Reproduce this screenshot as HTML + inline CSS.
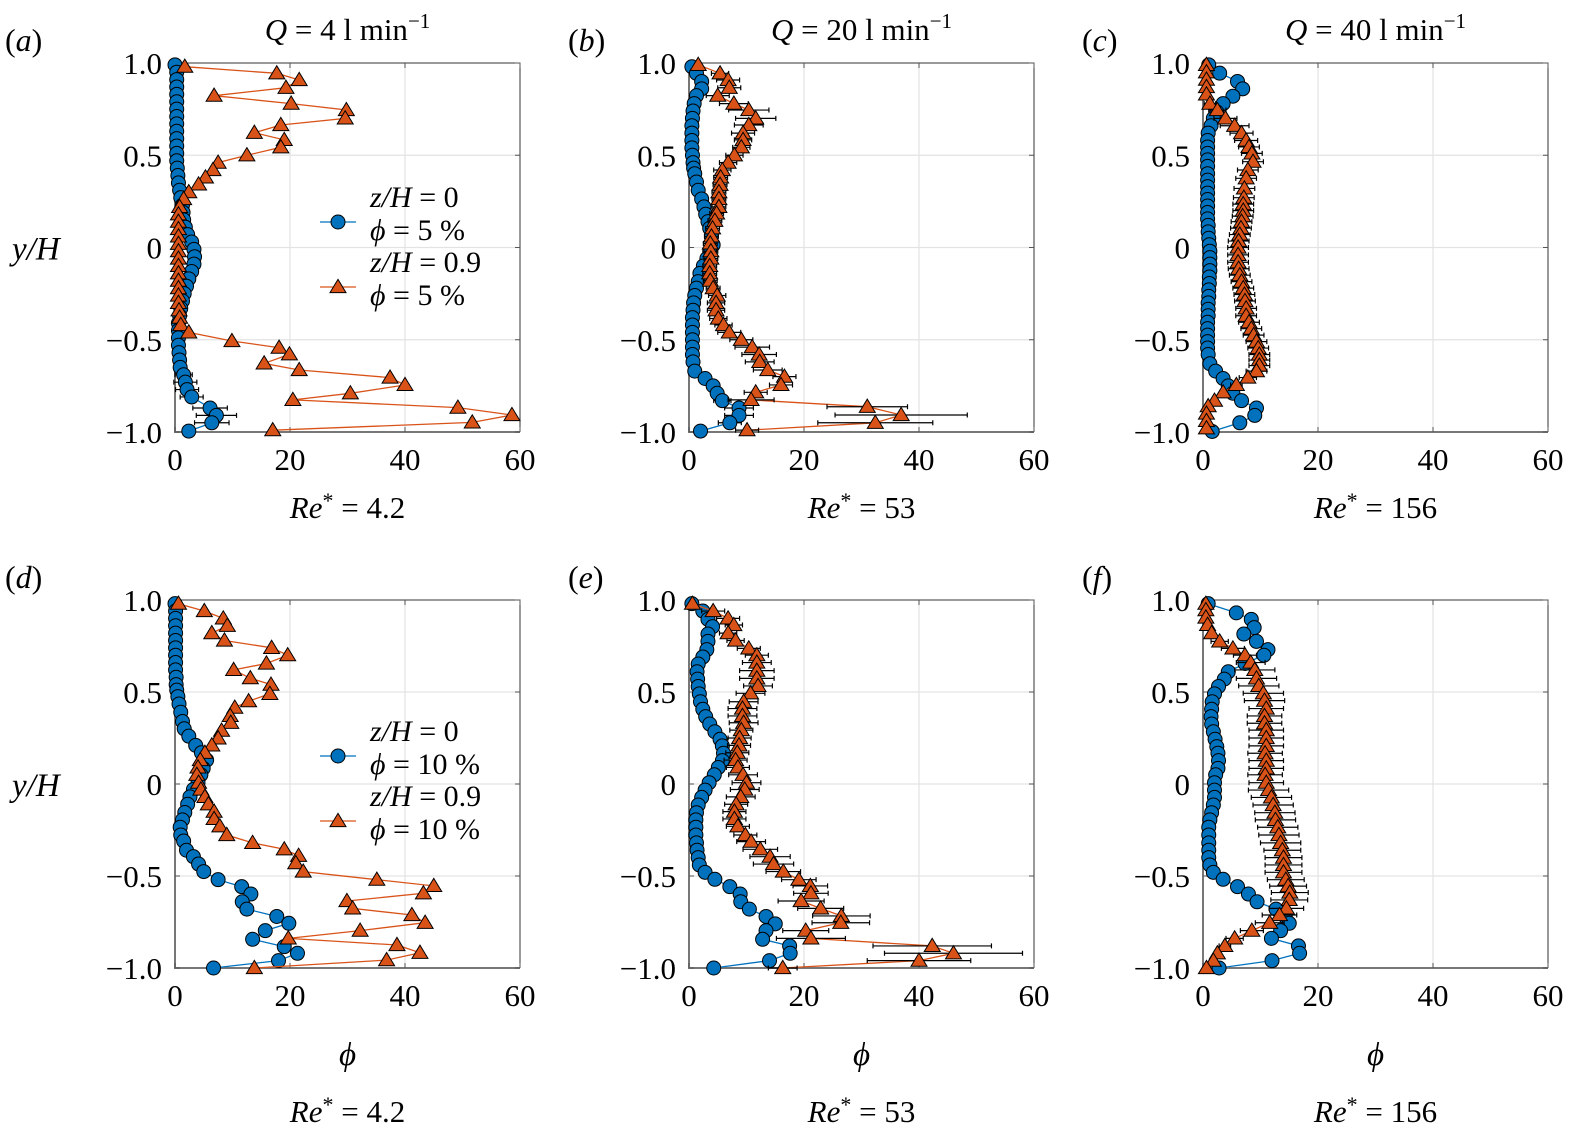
<!DOCTYPE html>
<html><head><meta charset="utf-8">
<style>
html,body{margin:0;padding:0;background:#fff;}
svg{display:block;}
svg text{font-family:"Liberation Serif","DejaVu Serif",serif;fill:#000;}
</style></head>
<body>
<svg id="fig" width="1573" height="1136" viewBox="0 0 1573 1136" xmlns="http://www.w3.org/2000/svg" font-family="Liberation Serif, DejaVu Serif, serif"></svg>
<script>
// ---------- data ----------
const yTicks=[1.0,0.5,0,-0.5,-1.0];
const yTickLabels=["1.0","0.5","0","\u22120.5","\u22121.0"];
const xTicks=[0,20,40,60];
const xTickLabels=["0","20","40","60"];
const panelLabels=["(a)","(b)","(c)","(d)","(e)","(f)"];
const qTitles=["4","20","40"];
const reValues=["4.2","53","156"];

// panel a
const aTriY=[0.98,0.944,0.908,0.866,0.823,0.78,0.745,0.70,0.664,0.622,0.583,0.543,0.50,0.46,0.42,0.38,0.342,0.30,0.263,0.22,0.18,0.14,0.10,0.06,0.02,-0.02,-0.06,-0.10,-0.14,-0.18,-0.22,-0.26,-0.30,-0.34,-0.38,-0.42,-0.46,-0.507,-0.543,-0.579,-0.628,-0.664,-0.705,-0.745,-0.79,-0.826,-0.868,-0.908,-0.948,-0.99];
const aTriPhi=[1.7,17.7,21.6,19.3,6.8,20.2,29.8,29.6,18.4,13.8,19.0,18.4,12.5,7.5,6.6,5.3,4.1,2.4,1.5,0.8,0.6,0.6,0.6,0.6,0.6,0.6,0.6,0.6,0.6,0.6,0.6,0.6,0.6,0.7,0.8,1.0,2.4,9.9,18.1,19.9,15.5,21.6,37.4,40.0,30.5,20.5,49.2,58.6,51.7,17.0];
const aTriErr=[0,0,0,0,0,0,0,0,0,0,0,0,0,0,0,0,0,0,0,0,0,0,0,0,0,0,0,0,0,0,0,0,0,0,0,0,0,0,0,0,0,0,0,0,0,0,0,0,0,0];
const aCircY=[0.99,0.95,0.91,0.87,0.83,0.79,0.75,0.71,0.67,0.63,0.59,0.55,0.51,0.47,0.43,0.39,0.35,0.31,0.27,0.23,0.19,0.15,0.11,0.07,0.03,-0.01,-0.05,-0.09,-0.13,-0.17,-0.21,-0.25,-0.29,-0.33,-0.37,-0.41,-0.45,-0.49,-0.53,-0.57,-0.61,-0.65,-0.69,-0.73,-0.77,-0.81,-0.87,-0.91,-0.95,-0.995];
const aCircPhi=[0,0.3,0.3,0.3,0.3,0.3,0.3,0.3,0.3,0.3,0.3,0.3,0.3,0.3,0.4,0.5,0.6,0.8,1.0,1.3,1.4,1.5,1.8,2.2,2.9,3.3,3.4,3.3,2.9,2.4,2.0,1.6,1.3,1.0,0.8,0.6,0.6,0.6,0.6,0.7,0.8,0.9,1.5,1.8,2.1,2.9,6.1,7.2,6.4,2.4];
const aCircErr=[0,0,0,0,0,0,0,0,0,0,0,0,0,0,0,0,0,0,0,0,0,0.5,0.5,0.5,0.5,0.5,0.5,0.5,0.5,0,0,0,0,0,0,0,0,0,0,0,0,0,1.5,2,2,2,3,3.5,3,0];

// panel b
const bTriY=[0.99,0.944,0.908,0.866,0.823,0.78,0.745,0.70,0.664,0.62,0.583,0.543,0.50,0.46,0.42,0.38,0.34,0.30,0.263,0.22,0.185,0.145,0.104,0.06,0.022,-0.02,-0.06,-0.10,-0.14,-0.18,-0.22,-0.26,-0.30,-0.34,-0.385,-0.42,-0.46,-0.50,-0.54,-0.58,-0.62,-0.664,-0.70,-0.745,-0.785,-0.826,-0.863,-0.908,-0.95,-0.99];
const bTriPhi=[1.6,5.4,6.8,7.0,5.0,7.8,10.4,11.6,10.4,9.4,9.4,9.1,7.9,6.8,5.8,5.5,5.4,5.2,5.2,5.2,4.8,4.5,4.1,3.9,3.7,3.8,3.8,3.6,3.6,3.7,4.2,4.9,4.7,4.7,5.1,6.0,7.0,9.1,11.0,12.2,12.3,13.7,16.6,16.0,11.6,10.8,31.0,36.9,32.4,10.1];
const bTriErr=[0,1.5,2,2,2,2.5,3.5,3.5,2.5,2,1.5,1.5,1.5,1.5,1.5,1.2,1.2,1.2,1.2,1.2,1.2,1.2,1.2,1.2,1.2,1.2,1.2,1.2,1.2,1.2,1.2,1.5,1.5,1.5,1.5,1.5,2,2,3,3,2.5,2.5,2,2,2,4,7,11.5,10,2];
const bCircY=[0.98,0.944,0.90,0.86,0.823,0.78,0.74,0.70,0.66,0.62,0.58,0.54,0.50,0.46,0.43,0.40,0.355,0.31,0.263,0.22,0.18,0.14,0.104,0.06,0.014,-0.02,-0.06,-0.10,-0.14,-0.185,-0.22,-0.26,-0.30,-0.34,-0.38,-0.42,-0.46,-0.50,-0.54,-0.58,-0.62,-0.67,-0.71,-0.75,-0.79,-0.83,-0.87,-0.91,-0.95,-0.995];
const bCircPhi=[0.5,1.3,2.2,2.2,1.3,0.9,0.7,0.6,0.5,0.5,0.5,0.5,0.6,0.7,0.8,1.0,1.3,1.6,2.2,2.6,2.9,3.3,3.6,3.9,4.2,3.6,3.1,2.5,1.9,1.6,1.3,1.0,0.8,0.7,0.6,0.6,0.6,0.6,0.6,0.6,0.7,1.0,2.8,4.2,4.9,5.8,8.7,8.7,7.1,2.0];
const bCircErr=[0,0,0.6,0.6,0,0,0,0,0,0,0,0,0,0,0,0,0,0,0,0,0,0,0,0,0,0,0,0,0,0,0,0,0,0,0,0,0,0,0,0,0,0,0,0,0,1.5,2.5,2.5,2,0];

// panel c
const cTriY=[0.99,0.95,0.91,0.87,0.83,0.78,0.745,0.70,0.66,0.62,0.58,0.545,0.51,0.465,0.42,0.375,0.32,0.27,0.235,0.20,0.17,0.14,0.105,0.07,0.035,0.0,-0.04,-0.08,-0.115,-0.15,-0.185,-0.22,-0.255,-0.29,-0.33,-0.37,-0.405,-0.44,-0.475,-0.51,-0.545,-0.58,-0.61,-0.64,-0.67,-0.705,-0.745,-0.785,-0.83,-0.86,-0.9,-0.94,-0.98];
const cTriPhi=[0.6,0.6,0.6,0.6,0.6,1.2,2.5,3.9,5.5,6.7,7.5,8.0,8.5,8.7,7.8,7.5,7.2,7.1,7.0,7.0,6.9,6.7,6.6,6.4,6.2,6.1,6.1,6.1,6.2,6.4,6.7,7.0,7.2,7.3,7.5,7.5,8.0,8.4,8.8,9.3,9.6,9.8,9.8,9.8,9.3,7.8,5.8,3.5,2.0,0.9,0.6,0.6,0.6];
const cTriErr=[0,0,0,0,0,1,1.5,2,2.5,2,2,1.8,1.8,1.8,1.8,1.8,1.8,1.8,1.8,1.8,1.8,1.8,1.8,1.8,1.8,1.8,1.8,1.8,1.8,1.8,1.8,1.8,1.8,1.8,1.8,1.8,1.8,1.8,1.8,1.8,1.8,1.8,1.8,1.8,1.8,1.5,1,0.5,0,0,0,0,0];
const cCircY=[0.99,0.945,0.90,0.86,0.82,0.78,0.735,0.70,0.66,0.62,0.58,0.545,0.51,0.475,0.44,0.40,0.365,0.33,0.295,0.26,0.225,0.19,0.155,0.12,0.085,0.05,0.015,-0.02,-0.055,-0.09,-0.125,-0.16,-0.195,-0.23,-0.265,-0.30,-0.335,-0.37,-0.405,-0.44,-0.475,-0.51,-0.545,-0.58,-0.63,-0.67,-0.71,-0.75,-0.79,-0.83,-0.87,-0.91,-0.95,-0.997];
const cCircPhi=[1.0,2.9,6.0,6.9,5.2,3.5,2.4,1.8,1.4,0.9,0.8,0.8,0.8,0.8,0.8,0.8,0.8,0.8,0.8,0.8,0.8,0.8,0.8,0.9,0.9,1.0,1.1,1.2,1.2,1.2,1.2,1.1,1.1,1.0,1.0,0.9,0.9,0.9,0.8,0.8,0.8,0.8,0.8,0.9,1.2,2.2,3.5,4.4,5.2,6.7,9.3,9.0,6.4,1.6];
const cCircErr=[0,0,0.8,0.8,0.5,0.4,0.4,0.4,0.4,0.4,0.4,0.4,0.4,0.4,0.4,0.4,0.4,0.4,0.4,0.4,0.4,0.4,0.4,0.4,0.4,0.4,0.4,0.4,0.4,0.4,0.4,0.4,0.4,0.4,0.4,0.4,0.4,0.4,0.4,0.4,0.4,0.4,0.4,0.4,0.4,0.5,0.5,0.5,0.5,0.8,0.8,0.8,0.6,0];

// panel d
const dTriY=[0.98,0.94,0.90,0.86,0.82,0.78,0.74,0.70,0.655,0.62,0.575,0.54,0.49,0.45,0.415,0.37,0.333,0.29,0.248,0.21,0.17,0.13,0.09,0.05,0.007,-0.03,-0.07,-0.11,-0.15,-0.19,-0.23,-0.277,-0.32,-0.355,-0.39,-0.43,-0.476,-0.52,-0.554,-0.594,-0.636,-0.676,-0.712,-0.754,-0.797,-0.839,-0.875,-0.917,-0.957,-1.0];
const dTriPhi=[0.6,5.1,8.4,9.1,6.4,8.6,16.8,19.6,15.9,10.2,13.1,16.7,16.5,12.8,10.4,9.6,9.7,8.1,7.5,6.4,5.2,4.4,4.0,3.8,4.1,4.5,5.2,5.8,6.8,6.8,7.8,9.0,13.5,19.0,21.5,21.0,22.3,35.1,45.0,43.2,29.9,30.9,41.2,43.5,32.2,19.7,38.6,42.6,36.8,13.8];
const dTriErr=[0,0,0,0,0,0,0,0,0,0,0,0,0,0,0,0,0,0,0,0,0,0,0,0,0,0,0,0,0,0,0,0,0,0,0,0,0,0,0,0,0,0,0,0,0,0,0,0,0,0];
const dCircY=[0.98,0.94,0.90,0.86,0.82,0.78,0.74,0.70,0.66,0.62,0.58,0.54,0.51,0.475,0.435,0.39,0.34,0.30,0.26,0.21,0.17,0.13,0.085,0.05,0.007,-0.03,-0.07,-0.11,-0.155,-0.195,-0.235,-0.277,-0.31,-0.36,-0.395,-0.435,-0.476,-0.52,-0.558,-0.598,-0.64,-0.68,-0.72,-0.757,-0.797,-0.844,-0.884,-0.92,-0.96,-1.0];
const dCircPhi=[0,0.1,0.1,0.1,0.1,0.1,0.1,0.1,0.1,0.1,0.2,0.2,0.3,0.5,0.7,1.0,1.3,1.6,2.4,3.6,4.6,5.5,4.9,4.5,4.0,3.2,2.6,2.2,1.7,1.3,0.9,1.0,1.5,2.0,3.2,4.1,5.0,7.5,11.6,13.2,11.7,12.5,17.7,19.8,15.7,13.5,19.0,21.3,18.0,6.7];
const dCircErr=[0,0,0,0,0,0,0,0,0,0,0,0,0,0,0,0,0,0,0,0,0,0,0,0,0,0,0,0,0,0,0,0,0,0,0,0,0,0,0,0,0,0,0,0,0,0,0,0,0,0];

// panel e
const eTriY=[0.98,0.94,0.90,0.864,0.82,0.78,0.737,0.70,0.66,0.616,0.574,0.533,0.493,0.447,0.41,0.37,0.333,0.293,0.25,0.21,0.17,0.13,0.09,0.05,0.007,-0.03,-0.07,-0.11,-0.15,-0.19,-0.23,-0.277,-0.313,-0.355,-0.395,-0.435,-0.476,-0.52,-0.554,-0.594,-0.636,-0.676,-0.717,-0.754,-0.797,-0.839,-0.88,-0.92,-0.96,-1.0];
const eTriPhi=[0.6,4.2,6.8,7.8,6.8,8.1,10.4,11.8,11.8,11.8,11.8,12.0,10.7,9.5,9.3,9.3,9.5,9.1,8.8,8.7,8.4,8.1,8.5,9.4,10.0,9.7,9.0,8.2,7.9,7.9,8.5,9.8,10.8,12.4,14.1,14.7,16.4,19.1,21.1,21.2,19.5,22.9,26.5,26.4,20.3,21.2,42.3,46.0,40.0,16.3];
const eTriErr=[0,2,2,1.5,1.5,1.5,2,2,2.5,3,3,2.5,2.5,2.5,2.5,2.5,2.5,2,2,2,2,2,2,2.5,2.5,2.5,2.5,2,2,2,2,2,2.5,3,3.5,3.5,3,3,3,3,4,4,5,5,4,6,10.3,12,9,2.5];
const eCircY=[0.98,0.94,0.895,0.855,0.815,0.775,0.73,0.69,0.652,0.61,0.57,0.53,0.49,0.447,0.406,0.366,0.326,0.284,0.243,0.207,0.167,0.127,0.09,0.05,0.007,-0.033,-0.073,-0.114,-0.156,-0.195,-0.235,-0.277,-0.32,-0.36,-0.4,-0.44,-0.48,-0.518,-0.558,-0.598,-0.64,-0.68,-0.72,-0.76,-0.797,-0.844,-0.88,-0.92,-0.96,-1.0];
const eCircPhi=[0.5,2.4,3.3,4.1,3.3,3.3,3.1,2.4,1.6,1.4,1.5,1.6,1.8,2.0,2.4,2.9,3.6,4.5,5.4,5.8,6.0,5.8,5.1,4.4,3.5,2.8,2.2,1.6,1.3,1.2,1.2,1.2,1.3,1.4,1.6,1.8,2.8,4.5,7.1,8.9,9.0,10.5,13.4,15.0,13.4,12.8,17.5,17.6,14.0,4.3];
const eCircErr=[0,0,0,0,0,0,0,0,0,0,0,0,0,0,0,0,0,0,0,0,0,0,0,0,0,0,0,0,0,0,0,0,0,0,0,0,0,0,0,0,0,0,0,0,0,0,0,0,0,0];

// panel f
const fTriY=[0.98,0.945,0.905,0.865,0.82,0.775,0.737,0.70,0.66,0.62,0.574,0.533,0.493,0.453,0.41,0.37,0.33,0.293,0.25,0.207,0.167,0.127,0.085,0.05,0.007,-0.033,-0.073,-0.114,-0.156,-0.195,-0.235,-0.277,-0.32,-0.36,-0.4,-0.44,-0.48,-0.52,-0.555,-0.59,-0.63,-0.676,-0.712,-0.754,-0.797,-0.839,-0.88,-0.92,-0.96,-1.0];
const fTriPhi=[0.5,0.5,0.5,0.8,1.5,2.9,5.2,7.3,8.3,9.0,9.3,9.7,10.5,10.7,11.0,10.7,10.7,11.0,11.0,11.0,10.8,11.0,11.0,10.8,11.0,11.4,11.9,12.2,12.5,12.6,13.0,13.2,13.5,13.8,14.0,14.0,14.0,14.4,14.8,15.1,15.0,14.5,13.3,11.6,8.5,5.5,3.8,2.5,1.8,0.6];
const fTriErr=[0,0,0,0,0,1.5,2,2,2.5,3.5,3.5,3.5,3.5,3.5,3,3,3,3,3,3,3,3,3,3,3,3.5,3.5,3.5,3.5,3.5,3.5,3.5,3.5,3.2,3.2,3.2,3.2,3.2,3.2,3.2,3.2,3,3,2.5,2,1.5,1,0.5,0,0];
const fCircY=[0.98,0.93,0.895,0.85,0.815,0.775,0.73,0.70,0.655,0.61,0.57,0.53,0.49,0.447,0.406,0.366,0.326,0.284,0.243,0.203,0.167,0.127,0.085,0.05,0.007,-0.033,-0.073,-0.114,-0.156,-0.195,-0.235,-0.277,-0.32,-0.36,-0.4,-0.44,-0.48,-0.518,-0.558,-0.598,-0.64,-0.68,-0.72,-0.757,-0.797,-0.839,-0.88,-0.92,-0.96,-1.0];
const fCircPhi=[0.9,5.8,8.4,8.9,7.1,9.3,11.3,10.6,7.3,4.4,3.7,2.7,2.0,1.6,1.5,1.4,1.5,1.8,2.1,2.4,2.6,2.7,2.6,2.2,2.0,2.0,2.0,1.8,1.5,1.2,1.0,1.0,1.0,1.0,1.0,1.2,1.8,3.5,6.0,7.9,9.4,12.7,14.3,15.0,13.5,11.9,16.6,16.8,12.0,2.8];
const fCircErr=[0,0,0,0,0,0,0,0,0,0,0,0,0,0,0,0,0,0,0,0,0,0,0,0,0,0,0,0,0,0,0,0,0,0,0,0,0,0,0,0,0,0,0,0,0,0,0,0,0,0];

// ---------- drawing ----------
const NS="http://www.w3.org/2000/svg";
const svg=document.getElementById('fig');
const FF="Liberation Serif, DejaVu Serif, serif";
function mk(tag,attrs,parent){const e=document.createElementNS(NS,tag);for(const k in attrs)e.setAttribute(k,attrs[k]);if(tag==='text')e.setAttribute('font-family',FF);(parent||svg).appendChild(e);return e;}
const BLUE="#0072BD",ORANGE="#D95319";
const PW=345;
const panels=[
 {id:"a",x0:175,yT:63,yB:432,tri:[aTriY,aTriPhi,aTriErr],circ:[aCircY,aCircPhi,aCircErr]},
 {id:"b",x0:689,yT:63,yB:432,tri:[bTriY,bTriPhi,bTriErr],circ:[bCircY,bCircPhi,bCircErr]},
 {id:"c",x0:1203,yT:63,yB:432,tri:[cTriY,cTriPhi,cTriErr],circ:[cCircY,cCircPhi,cCircErr]},
 {id:"d",x0:175,yT:600,yB:968,tri:[dTriY,dTriPhi,dTriErr],circ:[dCircY,dCircPhi,dCircErr]},
 {id:"e",x0:689,yT:600,yB:968,tri:[eTriY,eTriPhi,eTriErr],circ:[eCircY,eCircPhi,eCircErr]},
 {id:"f",x0:1203,yT:600,yB:968,tri:[fTriY,fTriPhi,fTriErr],circ:[fCircY,fCircPhi,fCircErr]}
];

function triPts(x,y,s){return (x)+","+(y-s*0.95)+" "+(x-s)+","+(y+s*0.7)+" "+(x+s)+","+(y+s*0.7);}

panels.forEach((p,pi)=>{
  const g=mk('g',{});
  
  
  const sx=v=>p.x0+v/60*PW;
  const sy=v=>p.yB-(v+1)/2*(p.yB-p.yT);
  xTicks.forEach(t=>{ if(t>0&&t<60){const l=mk('line',{x1:sx(t),x2:sx(t),y1:p.yT,y2:p.yB,stroke:"#e3e3e3","stroke-width":1.2},g);
    }});
  yTicks.forEach(t=>{ if(t>-1&&t<1){const l=mk('line',{x1:p.x0,x2:p.x0+PW,y1:sy(t),y2:sy(t),stroke:"#e3e3e3","stroke-width":1.2},g);
    }});
  const fr=mk('path',{d:`M${p.x0} ${p.yT}H${p.x0+PW}V${p.yB}`,fill:"none",stroke:"#333","stroke-width":1},g);
  
  const ax=mk('path',{d:`M${p.x0} ${p.yT}V${p.yB}H${p.x0+PW}`,fill:"none",stroke:"#777","stroke-width":2},g);
  
  xTicks.forEach((t,i)=>{
    mk('line',{x1:sx(t),x2:sx(t),y1:p.yB,y2:p.yB-5,stroke:"#555","stroke-width":1},g);
    mk('line',{x1:sx(t),x2:sx(t),y1:p.yT,y2:p.yT+5,stroke:"#555","stroke-width":1},g);
    const tx=mk('text',{x:sx(t),y:p.yB+38,"font-size":31,"text-anchor":"middle"},g);
    tx.textContent=xTickLabels[i];
    
  });
  yTicks.forEach((t,i)=>{
    mk('line',{x1:p.x0,x2:p.x0+5,y1:sy(t),y2:sy(t),stroke:"#555","stroke-width":1},g);
    mk('line',{x1:p.x0+PW,x2:p.x0+PW-5,y1:sy(t),y2:sy(t),stroke:"#555","stroke-width":1},g);
    const tx=mk('text',{x:p.x0-13,y:sy(t)+11,"font-size":31,"text-anchor":"end"},g);
    tx.textContent=yTickLabels[i];
    
  });
  function series(arr,color,kind){
    const [Y,P,E]=arr;const n=Math.min(Y.length,P.length);
    const sg=mk('g',{},g);
    
    
    let d="";
    for(let i=0;i<n;i++){d+=(i?"L":"M")+sx(P[i]).toFixed(1)+" "+sy(Y[i]).toFixed(1);}
    const ln=mk('path',{d:d,fill:"none",stroke:color,"stroke-width":1.3},sg);
    
    for(let i=0;i<n;i++){
      const e=E&&E[i]?E[i]:0;
      if(e>0){
        const x1=sx(P[i]-e),x2=sx(P[i]+e),yy=sy(Y[i]);
        const eb=mk('path',{d:`M${x1} ${yy}H${x2}M${x1} ${yy-2.5}V${yy+2.5}M${x2} ${yy-2.5}V${yy+2.5}`,stroke:"#000","stroke-width":1.2,fill:"none"},sg);
        
      }
    }
    for(let i=0;i<n;i++){
      const cx=sx(P[i]),cy=sy(Y[i]);let m;
      if(kind==='tri') m=mk('polygon',{points:triPts(cx,cy,8),fill:color,stroke:"#000","stroke-width":1},sg);
      else m=mk('circle',{cx:cx,cy:cy,r:7,fill:color,stroke:"#000","stroke-width":1},sg);
      
      
    }
  }
  series(p.circ,BLUE,'circ');
  series(p.tri,ORANGE,'tri');
  const col=pi%3;
  const plx=col===0?5:p.x0-121;
  const pl=mk('text',{x:plx,y:p.yT-12,"font-size":32},g);
  pl.innerHTML='(<tspan font-style="italic">'+panelLabels[pi].slice(1,-1)+'</tspan>)';
  
  const cxm=p.x0+PW/2;
  if(pi<3){
    const qt=mk('text',{x:cxm,y:40,"font-size":31,"text-anchor":"middle"},g);
    qt.innerHTML='<tspan font-style="italic">Q</tspan> = '+qTitles[col]+' l min<tspan dy="-12" font-size="21">\u22121</tspan>';
    
    const re=mk('text',{x:cxm,y:518,"font-size":31,"text-anchor":"middle"},g);
    re.innerHTML='<tspan font-style="italic">Re</tspan><tspan dy="-10" font-size="22">*</tspan><tspan dy="10"> = '+reValues[col]+'</tspan>';
    
  } else {
    const xt=mk('text',{x:cxm,y:1065,"font-size":33,"text-anchor":"middle","font-style":"italic"},g);
    xt.textContent='\u03d5';
    
    const re=mk('text',{x:cxm,y:1122,"font-size":31,"text-anchor":"middle"},g);
    re.innerHTML='<tspan font-style="italic">Re</tspan><tspan dy="-10" font-size="22">*</tspan><tspan dy="10"> = '+reValues[col]+'</tspan>';
    
  }
  if(col===0){
    const yl=mk('text',{x:12,y:(p.yT+p.yB)/2+12,"font-size":33,"font-style":"italic"},g);
    yl.textContent='y/H';
    
    const lg=mk('g',{},g);
    
    const pct=pi===0?'5':'10';
    const baseY=pi===0?207:741;
    const rows=[['0',BLUE,'circ'],['0.9',ORANGE,'tri']];
    rows.forEach((r,k)=>{
      const yy=baseY+k*65;
      const ent=mk('g',{},lg);
      
      const t1=mk('text',{x:370,y:yy,"font-size":30},ent);
      t1.innerHTML='<tspan font-style="italic">z/H</tspan> = '+r[0];
      const t2=mk('text',{x:370,y:yy+33,"font-size":30},ent);
      t2.innerHTML='<tspan font-style="italic">\u03d5</tspan> = '+pct+' %';
      const my=yy+15;
      mk('line',{x1:320,x2:356,y1:my,y2:my,stroke:r[1],"stroke-width":1.3},ent);
      if(r[2]==='circ') mk('circle',{cx:338,cy:my,r:7,fill:r[1],stroke:"#000","stroke-width":1},ent);
      else mk('polygon',{points:triPts(338,my,8),fill:r[1],stroke:"#000","stroke-width":1},ent);
    });
  }
});
</script>
</body></html>
